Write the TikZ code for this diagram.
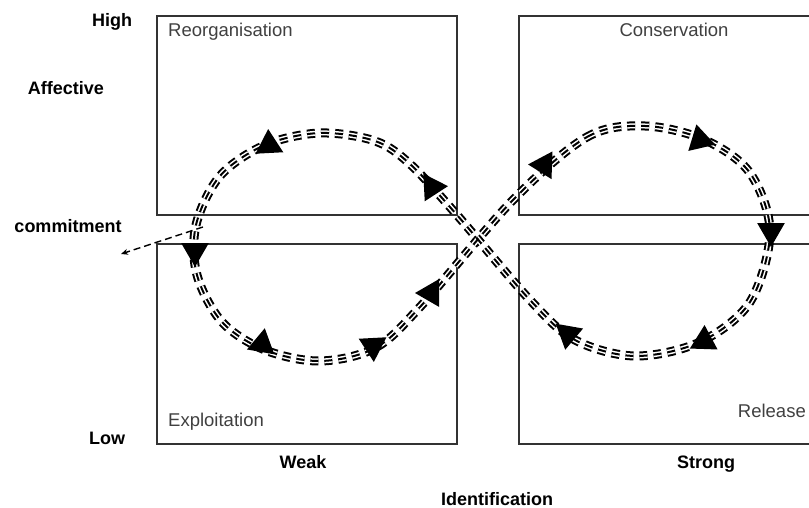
\documentclass[tikz,border=0pt]{standalone}
\usepackage{fontspec}
\setmainfont{Liberation Sans}
\usetikzlibrary{arrows.meta,calc}
\newcommand\arrowtri[3]{\fill[black] ($(#1,#2)+(#3:16)$) -- ($(#1,#2)+(#3+120:16)$) -- ($(#1,#2)+(#3-120:16)$) -- cycle;}
\begin{document}
\begin{tikzpicture}[x=1pt,y=-1pt,
  box/.style={draw=black!80,line width=1.1},
  phase/.style={font=\fontsize{18.5}{22}\selectfont, text=black!75, inner sep=0},
  axis/.style={font=\bfseries\fontsize{18}{22}\selectfont, inner sep=0},
  cycleline/.style={dash pattern=on 8 off 6},
]
\useasboundingbox (0,0) rectangle (809,508);
\fill[white] (0,0) rectangle (809,508);

% quadrants
\draw[box] (157,16) rectangle (457,215);
\draw[box] (815,16) -- (519,16) -- (519,215) -- (815,215);
\draw[box] (157,244) rectangle (457,444);
\draw[box] (815,244) -- (519,244) -- (519,444) -- (815,444);

% figure-eight cycle drawn as a triple dashed line
\foreach \w/\c in {9/black, 5/white, 2/black}
  \draw[cycleline, line width=\w, draw=\c]
    plot[smooth cycle, tension=0.55] coordinates {
      (513,200) (587,137) (645,126) (705,140) (750,173) (770,232)
      (750,302) (700,342) (635,356) (575,340) (530,300)
      (457,215) (410,164) (375,141) (320,133) (265,145) (220,176)
      (196,225) (197,275) (222,322) (265,350) (320,361) (375,348) (420,307)};

% arrowheads on the cycle
\arrowtri{269}{145}{27}
\arrowtri{432}{187}{-3}
\arrowtri{195}{251}{90}
\arrowtri{262}{344}{40}
\arrowtri{373}{346}{87}
\arrowtri{431}{293}{60}
\arrowtri{544}{165}{62}
\arrowtri{700}{140}{17}
\arrowtri{771}{231}{90}
\arrowtri{704}{341}{32}
\arrowtri{568}{334}{100}

% commitment arrow
\coordinate (cs) at (203,227);
\coordinate (ce) at (121,254);
\draw[line width=1.4, dash pattern=on 7 off 4, -{Stealth[length=7,width=6]}] (cs) -- (ce);

% labels
\node[axis, anchor=base] (high) at (112,27) {High};
\node[axis, anchor=base] (aff) at (66,95) {Affective};
\node[axis, anchor=base] (comm) at (68,232) {commitment};
\node[axis, anchor=base] (low) at (107,444) {Low};
\node[axis, anchor=base] (weak) at (303,468) {Weak};
\node[axis, anchor=base] (strong) at (706,468) {Strong};
\node[axis, anchor=base] (ident) at (497,505) {Identification};
\node[phase, anchor=base west] (reorg) at (168,37) {Reorganisation};
\node[phase, anchor=base] (cons) at (674,37) {Conservation};
\node[phase, anchor=base west] (expl) at (168,426) {Exploitation};
\node[phase, anchor=base east] (rel) at (806,417) {Release};
\end{tikzpicture}
\end{document}
